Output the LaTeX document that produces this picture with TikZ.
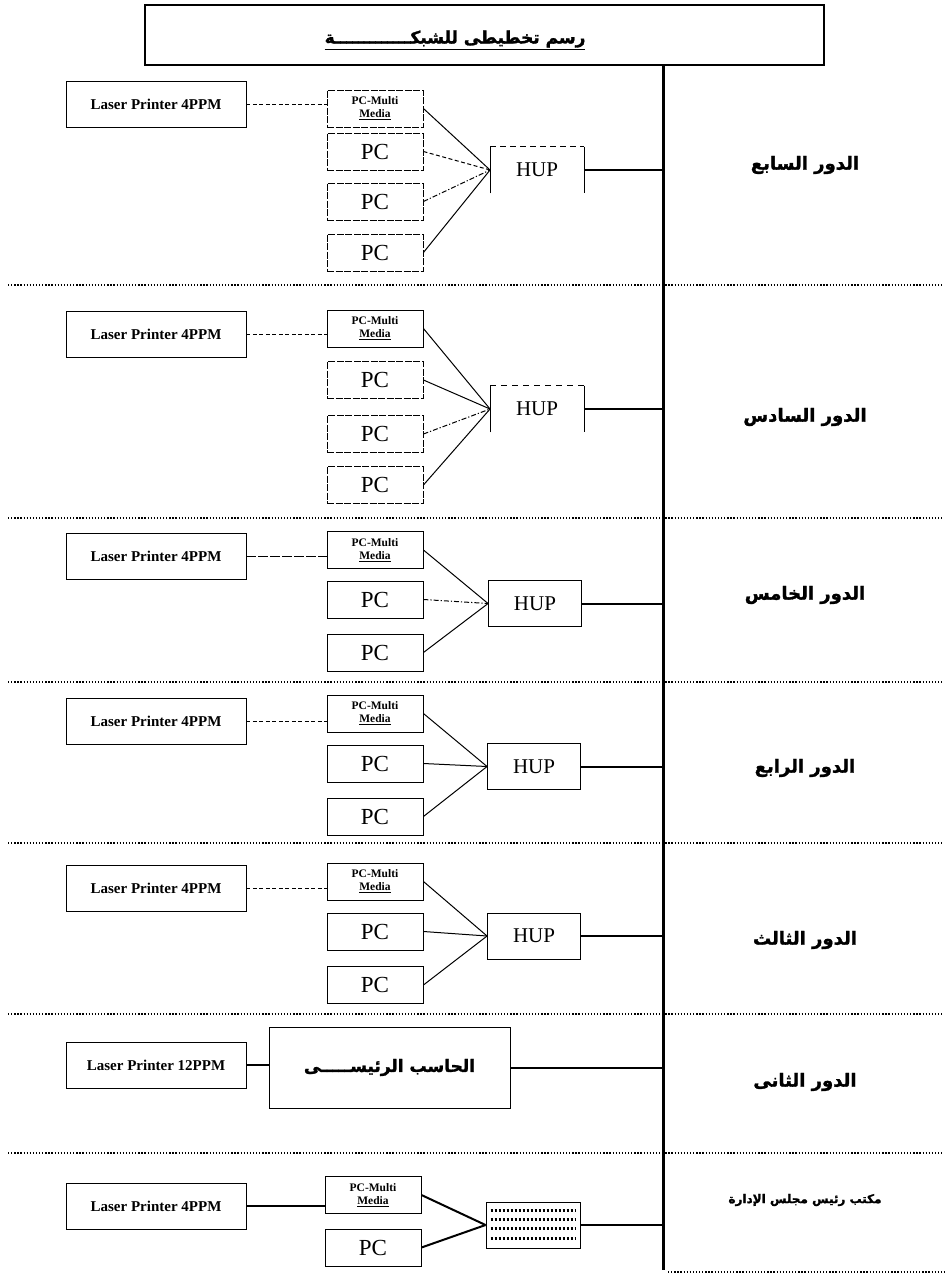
\documentclass[tikz,border=0pt]{standalone}
\usepackage{fontspec}
\setmainfont{Liberation Serif}
\newfontfamily\arabicfont[Script=Arabic, BoldFeatures={FakeBold=1.6}]{DejaVu Sans}
\TeXXeTstate=1
\begin{document}
\begin{tikzpicture}[x=1pt,y=-1pt,
 box/.style={draw, line width=0.9pt, inner sep=0pt, align=center},
 prn/.style={box, minimum width=180pt, minimum height=46pt, font=\bfseries\fontsize{15}{17}\selectfont},
 pcbox/.style={box, minimum width=96pt, minimum height=37pt, font=\fontsize{23}{25}\selectfont},
 pcm/.style={box, minimum width=96pt, minimum height=37pt, font=\bfseries\fontsize{11.5}{13}\selectfont},
 hupbox/.style={box, minimum width=93pt, minimum height=46pt, font=\fontsize{21}{23}\selectfont},
 hupopen/.style={hupbox, draw=none},
 link/.style={line width=1pt},
 dlink/.style={line width=1pt, dash pattern=on 4pt off 2.5pt},
 ddlink/.style={line width=1pt, dash pattern=on 5pt off 2pt on 1.2pt off 2pt},
 busline/.style={line width=3pt},
 feed/.style={line width=2pt},
 sep/.style={line width=1.3pt, dash pattern=on 1.3pt off 1.8pt},
 floor/.style={font=\arabicfont\bfseries\fontsize{18}{21}\selectfont},
 brk/.style={dash pattern=on 7pt off 1.5pt}
]
\useasboundingbox (0,0) rectangle (947,1275);

% title
\node[draw, line width=2pt, minimum width=679pt, minimum height=60pt, inner sep=0pt] (title) at (484.5,35) {};
\node[font=\arabicfont\bfseries\fontsize{17}{19}\selectfont] (titletext) at (455,40) {\underline{\beginR رسم تخطيطى للشبكـــــــــــــة\endR}};

% bus
\coordinate (busTop) at (663,65);
\coordinate (busBot) at (663,1270);
\draw[busline] (busTop) -- (busBot);

% separators
\draw[sep] (8,285) -- (944,285);
\draw[sep] (8,518) -- (944,518);
\draw[sep] (8,682) -- (944,682);
\draw[sep] (8,843) -- (944,843);
\draw[sep] (8,1014) -- (944,1014);
\draw[sep] (8,1153) -- (944,1153);
\draw[sep] (668,1272) -- (944,1272);

% ---------- 7th floor ----------
\node[prn] (p1) at (156,104.5) {Laser Printer 4PPM};
\node[pcm, brk] (m1) at (375,108.5) {PC-Multi\\\underline{Media}};
\node[pcbox, brk] (a1) at (375,151.5) {PC};
\node[pcbox, brk] (b1) at (375,201.5) {PC};
\node[pcbox, brk] (c1) at (375,252.5) {PC};
\node[hupopen] (h1) at (537,170) {HUP};
\draw[line width=0.9pt] (h1.south west) -- (h1.north west);
\draw[line width=0.9pt, dash pattern=on 6pt off 4pt] (h1.north west) -- (h1.north east);
\draw[line width=0.9pt] (h1.north east) -- (h1.south east);
\draw[dlink] (p1.east) -- (p1.east -| m1.west);
\draw[link] (m1.east) -- (h1.west);
\draw[dlink] (a1.east) -- (h1.west);
\draw[ddlink] (b1.east) -- (h1.west);
\draw[link] (c1.east) -- (h1.west);
\draw[feed] (h1.east) -- (h1.east -| busTop);
\node[floor] (f1) at (805,165) {\beginR الدور السابع\endR};

% ---------- 6th floor ----------
\node[prn] (p2) at (156,334) {Laser Printer 4PPM};
\node[pcm] (m2) at (375,328.5) {PC-Multi\\\underline{Media}};
\node[pcbox, brk] (a2) at (375,380) {PC};
\node[pcbox, brk] (b2) at (375,434) {PC};
\node[pcbox, brk] (c2) at (375,485) {PC};
\node[hupopen] (h2) at (537,409) {HUP};
\draw[line width=0.9pt] (h2.south west) -- (h2.north west);
\draw[line width=0.9pt, dash pattern=on 6pt off 5pt] (h2.north west) -- (h2.north east);
\draw[line width=0.9pt] (h2.north east) -- (h2.south east);
\draw[dlink] (p2.east) -- (p2.east -| m2.west);
\draw[link] (m2.east) -- (h2.west);
\draw[link] (a2.east) -- (h2.west);
\draw[ddlink] (b2.east) -- (h2.west);
\draw[link] (c2.east) -- (h2.west);
\draw[feed] (h2.east) -- (h2.east -| busTop);
\node[floor] (f2) at (805,417) {\beginR الدور السادس\endR};

% ---------- 5th floor ----------
\node[prn] (p3) at (156,556.5) {Laser Printer 4PPM};
\node[pcm] (m3) at (375,550) {PC-Multi\\\underline{Media}};
\node[pcbox] (a3) at (375,599.5) {PC};
\node[pcbox] (b3) at (375,652.5) {PC};
\node[hupbox] (h3) at (535,603.5) {HUP};
\draw[dash pattern=on 10pt off 2pt, line width=1pt] (p3.east) -- (p3.east -| m3.west);
\draw[link] (m3.east) -- (h3.west);
\draw[ddlink] (a3.east) -- (h3.west);
\draw[link] (b3.east) -- (h3.west);
\draw[feed] (h3.east) -- (h3.east -| busTop);
\node[floor] (f3) at (805,595) {\beginR الدور الخامس\endR};

% ---------- 4th floor ----------
\node[prn] (p4) at (156,721) {Laser Printer 4PPM};
\node[pcm] (m4) at (375,713.5) {PC-Multi\\\underline{Media}};
\node[pcbox] (a4) at (375,763.5) {PC};
\node[pcbox] (b4) at (375,816.5) {PC};
\node[hupbox] (h4) at (534,766.5) {HUP};
\draw[dlink] (p4.east) -- (p4.east -| m4.west);
\draw[link] (m4.east) -- (h4.west);
\draw[link] (a4.east) -- (h4.west);
\draw[link] (b4.east) -- (h4.west);
\draw[feed] (h4.east) -- (h4.east -| busTop);
\node[floor] (f4) at (805,768) {\beginR الدور الرابع\endR};

% ---------- 3rd floor ----------
\node[prn] (p5) at (156,888) {Laser Printer 4PPM};
\node[pcm] (m5) at (375,881.5) {PC-Multi\\\underline{Media}};
\node[pcbox] (a5) at (375,931.5) {PC};
\node[pcbox] (b5) at (375,985) {PC};
\node[hupbox] (h5) at (534,936) {HUP};
\draw[dlink] (p5.east) -- (p5.east -| m5.west);
\draw[link] (m5.east) -- (h5.west);
\draw[link] (a5.east) -- (h5.west);
\draw[link] (b5.east) -- (h5.west);
\draw[feed] (h5.east) -- (h5.east -| busTop);
\node[floor] (f5) at (805,940) {\beginR الدور الثالث\endR};

% ---------- 2nd floor ----------
\node[prn] (p6) at (156,1065) {Laser Printer 12PPM};
\node[box, minimum width=241pt, minimum height=81pt, font=\arabicfont\bfseries\fontsize{17}{20}\selectfont] (main) at (389.5,1067.5) {\beginR الحاسب الرئيســـــى\endR};
\draw[feed] (p6.east) -- (p6.east -| main.west);
\draw[feed] (main.east) -- (main.east -| busTop);
\node[floor] (f6) at (805,1082) {\beginR الدور الثانى\endR};

% ---------- chairman office ----------
\node[prn] (p7) at (156,1206) {Laser Printer 4PPM};
\node[pcm] (m7) at (373,1195) {PC-Multi\\\underline{Media}};
\node[pcbox] (a7) at (373,1247.5) {PC};
\node[box, minimum width=94pt, minimum height=46pt] (hub) at (533,1225) {};
\foreach \yy in {9,18,27,37}
  \draw[line width=2.4pt, dash pattern=on 2.2pt off 1.8pt] ([xshift=5pt,yshift=-\yy pt]hub.north west) -- ([xshift=-5pt,yshift=-\yy pt]hub.north east);
\draw[feed] (p7.east) -- (p7.east -| m7.west);
\draw[feed] (m7.east) -- (hub.west);
\draw[feed] (a7.east) -- (hub.west);
\draw[feed] (hub.east) -- (hub.east -| busTop);
\node[floor, font=\arabicfont\bfseries\fontsize{12}{14}\selectfont] (f7) at (805,1200) {\beginR مكتب رئيس مجلس الإدارة\endR};
\end{tikzpicture}
\end{document}
